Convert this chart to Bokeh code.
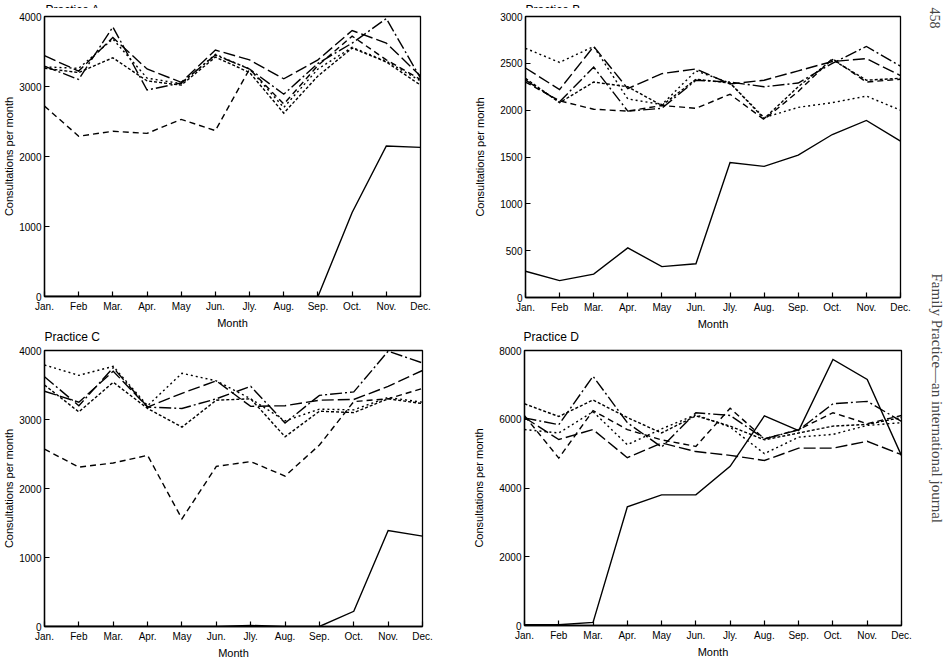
import math

from bokeh.core.properties import value
from bokeh.embed import file_html
from bokeh.layouts import column, row
from bokeh.models import FixedTicker, Label, Range1d
from bokeh.plotting import figure
from bokeh.resources import INLINE

# ---- data -------------------------------------------------------------
months = ["Jan.", "Feb", "Mar.", "Apr.", "May", "Jun.",
          "Jly.", "Aug.", "Sep.", "Oct.", "Nov.", "Dec."]
years = ["1990", "1991", "1992", "1993", "1994", "1995"]

# Practice A (consultations per month)
a_1990 = [0, 0, 0, 0, 0, 0, 0, 0, 0, 1200, 2150, 2130]
a_1991 = [2720, 2290, 2360, 2330, 2530, 2370, 3250, 2750, 3300, 3720, 3380, 3100]
a_1992 = [3280, 3260, 3680, 3120, 3040, 3460, 3250, 2700, 3250, 3560, 3360, 3080]
a_1993 = [3260, 3200, 3410, 3080, 3020, 3420, 3200, 2620, 3150, 3550, 3350, 3020]
a_1994 = [3440, 3220, 3700, 3250, 3060, 3520, 3380, 3110, 3380, 3800, 3620, 3150]
a_1995 = [3290, 3100, 3850, 2950, 3050, 3450, 3250, 2890, 3330, 3620, 3970, 3120]

# Practice B
b_1990 = [280, 180, 250, 530, 330, 360, 1440, 1400, 1520, 1740, 1890, 1670]
b_1991 = [2300, 2100, 2010, 1990, 2050, 2020, 2170, 1900, 2200, 2550, 2300, 2330]
b_1992 = [2660, 2510, 2680, 2120, 2060, 2420, 2290, 1920, 2030, 2080, 2150, 2000]
b_1993 = [2340, 2080, 2300, 2250, 2050, 2330, 2290, 1910, 2250, 2540, 2320, 2340]
b_1994 = [2450, 2220, 2680, 2230, 2390, 2440, 2280, 2320, 2420, 2520, 2550, 2370]
b_1995 = [2320, 2090, 2460, 1990, 2020, 2320, 2300, 2250, 2290, 2500, 2680, 2470]

# Practice C
c_1990 = [0, 0, 0, 0, 0, 0, 15, 0, 0, 220, 1390, 1310]
c_1991 = [2570, 2310, 2370, 2480, 1560, 2320, 2390, 2180, 2630, 3260, 3300, 3450]
c_1992 = [3790, 3640, 3770, 3200, 3670, 3560, 3300, 2980, 3150, 3140, 3320, 3250]
c_1993 = [3500, 3110, 3540, 3160, 2890, 3280, 3300, 2750, 3120, 3100, 3300, 3230]
c_1994 = [3410, 3250, 3700, 3180, 3380, 3560, 3190, 3200, 3280, 3290, 3480, 3710]
c_1995 = [3620, 3200, 3750, 3180, 3160, 3300, 3480, 2950, 3350, 3400, 3990, 3820]

# Practice D
d_1990 = [20, 20, 90, 3450, 3800, 3800, 4630, 6100, 5670, 7740, 7160, 4940]
d_1991 = [6100, 4870, 6250, 5700, 5400, 5210, 6320, 5430, 5700, 6190, 5870, 6110]
d_1992 = [5700, 5600, 6220, 5260, 5720, 6130, 5770, 5000, 5480, 5560, 5820, 5900]
d_1993 = [6450, 6080, 6560, 6050, 5600, 6100, 5800, 5400, 5600, 5800, 5850, 6050]
d_1994 = [6050, 5410, 5700, 4880, 5310, 5060, 4950, 4800, 5160, 5160, 5360, 4970]
d_1995 = [6040, 5840, 7250, 5900, 5190, 6190, 6110, 5430, 5690, 6450, 6520, 5940]

# ---- styling ----------------------------------------------------------
FONT = "Liberation Sans"
SERIF = "Liberation Serif"
dashes = {"1990": "solid", "1991": "6 4", "1992": "2 3",
          "1993": "3 2", "1994": "12 4", "1995": "12 3 2 3"}


def bare(fw, fh):
    """A plain canvas with pixel-sized ranges, for text around the panels."""
    p = figure(frame_width=fw, frame_height=fh, x_range=Range1d(0, fw),
               y_range=Range1d(0, fh), output_backend="svg",
               toolbar_location=None, min_border_left=0, min_border_right=0,
               min_border_top=0, min_border_bottom=0,
               background_fill_color="white", border_fill_color="white")
    p.axis.visible = False
    p.grid.visible = False
    p.outline_line_color = None
    return p


def headings(fw, fh, xs, ys, texts, baseline):
    p = bare(fw, fh)
    p.text(x=xs, y=ys, text=texts,
           text_font=value(FONT), text_font_size=value("12px"),
           text_baseline=baseline, text_align="left", text_color="black")
    return p


def panel(series, ymax, step, fw, fh, left, right, top, bottom,
          label_standoff):
    p = figure(frame_width=fw, frame_height=fh,
               x_range=Range1d(0, len(months) - 1), y_range=Range1d(0, ymax),
               output_backend="svg", toolbar_location=None,
               min_border_left=left, min_border_right=right,
               min_border_top=top, min_border_bottom=bottom,
               background_fill_color="white", border_fill_color="white")
    p.grid.visible = False
    p.outline_line_color = "black"
    p.outline_line_width = 1.3

    p.xaxis.ticker = FixedTicker(ticks=list(range(len(months))))
    p.xaxis.major_label_overrides = {i: m for i, m in enumerate(months)}
    p.yaxis.ticker = FixedTicker(ticks=list(range(0, ymax + 1, step)))
    p.xaxis.axis_label = "Month"
    p.yaxis.axis_label = "Consultations per month"
    for ax in (p.xaxis[0], p.yaxis[0]):
        ax.axis_line_width = 1.3
        ax.major_tick_in = 5
        ax.major_tick_out = 0
        ax.major_tick_line_width = 1.2
        ax.minor_tick_line_color = None
        ax.major_label_text_font = FONT
        ax.major_label_text_font_size = "10px"
        ax.major_label_text_color = "black"
        ax.axis_label_text_font = FONT
        ax.axis_label_text_font_size = "11px"
        ax.axis_label_text_font_style = "normal"
        ax.axis_label_text_color = "black"
    p.xaxis.major_label_standoff = 4
    p.xaxis.axis_label_standoff = 2
    p.yaxis.major_label_standoff = 3
    p.yaxis.axis_label_standoff = label_standoff

    x = list(range(len(months)))
    for yr, vals in zip(years, series):
        p.line(x, vals, line_color="black", line_width=1.4,
               line_dash=dashes[yr], line_join="miter")
    return p


pA = panel([a_1990, a_1991, a_1992, a_1993, a_1994, a_1995], 4000, 1000,
           376, 280, 43, 51, 8, 34, 1)
pB = panel([b_1990, b_1991, b_1992, b_1993, b_1994, b_1995], 3000, 500,
           375, 281, 53, 15, 7, 34, 11)
pC = panel([c_1990, c_1991, c_1992, c_1993, c_1994, c_1995], 4000, 1000,
           378, 276, 44, 48, 7, 36, 1)
pD = panel([d_1990, d_1991, d_1992, d_1993, d_1994, d_1995], 8000, 2000,
           377, 275, 53, 13, 6, 38, 11)

# panel headings: the upper pair runs off the top edge
top_strip = headings(913, 8, [45, 525], [3, 3],
                     ["Practice A", "Practice B"], "alphabetic")
mid_strip = headings(913, 12, [44, 523], [7, 7],
                     ["Practice C", "Practice D"], "middle")

# year key along the bottom edge, running off the bottom
bottom_strip = bare(913, 6)
key_x = [86 + i * 78.5 for i in range(len(years))]
bottom_strip.text(x=key_x, y=[5] * len(years), text=years,
                  text_font=value(FONT), text_font_size=value("11px"),
                  text_baseline="top", text_align="center",
                  text_color="black")

# running header down the right margin
pR = bare(36, 667)
pR.add_layout(Label(x=19, y=660, angle=-math.pi / 2, text="458",
                    text_font=SERIF, text_font_size="14px",
                    text_align="left", text_baseline="middle"))
pR.add_layout(Label(x=21, y=394, angle=-math.pi / 2,
                    text="Family Practice\u2014an international journal",
                    text_font=SERIF, text_font_size="15px",
                    text_align="left", text_baseline="middle"))

layout = row(column(top_strip, row(pA, pB), mid_strip, row(pC, pD),
                    bottom_strip), pR)

with open("out.html", "w") as f:
    f.write(file_html(layout, INLINE))
